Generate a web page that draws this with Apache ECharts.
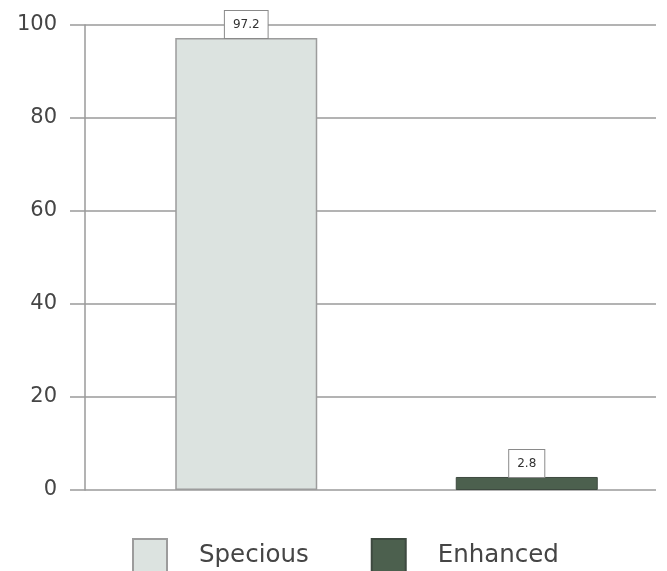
<!DOCTYPE html>
<html>
<head>
<meta charset="utf-8">
<script src="https://cdn.jsdelivr.net/npm/echarts@6/dist/echarts.min.js"></script>
<style>
  html, body { margin: 0; padding: 0; background: #fff; }
  #chart { width: 667px; height: 571px; }
</style>
</head>
<body>
<div id="chart"></div>
<script>
// Categories and values
const categories = ['Specious', 'Enhanced'];
const speciousValues = [97.2, '-'];
const enhancedValues = ['-', 2.8];
const yTicks = { min: 0, max: 100, interval: 20 };

const FONT = 'DejaVu Sans';
const gridLine = '#9a9a9a';

const chart = echarts.init(document.getElementById('chart'));

const valueLabel = {
  show: true,
  position: 'top',
  distance: 0,
  color: '#333',
  fontFamily: FONT,
  fontSize: 12,
  backgroundColor: '#fff',
  borderColor: '#8a8a8a',
  borderWidth: 1,
  padding: [8, 8, 7, 8]
};

chart.setOption({
  animation: false,
  backgroundColor: '#fff',
  legend: {
    bottom: -8,
    left: 127,
    itemWidth: 34,
    itemHeight: 34,
    itemGap: 62,
    icon: 'rect',
    data: categories,
    textStyle: {
      color: '#454545',
      fontFamily: FONT,
      fontSize: 24.5,
      padding: [0, 0, 0, 27]
    }
  },
  grid: [
    // axis frame: y axis, gridlines, ticks
    { left: 85, right: 11, top: 25, bottom: 81 },
    // bar placement
    { left: 106, width: 573, top: 25, bottom: 81 }
  ],
  xAxis: [
    { type: 'category', gridIndex: 0, data: categories, show: false },
    { type: 'category', gridIndex: 1, data: categories, show: false }
  ],
  yAxis: [
    {
      type: 'value', gridIndex: 0,
      min: yTicks.min, max: yTicks.max, interval: yTicks.interval,
      axisLine: { show: true, lineStyle: { color: gridLine, width: 1.5 } },
      axisTick: { show: true, length: 15, lineStyle: { color: gridLine, width: 1.5 } },
      splitLine: { show: true, lineStyle: { color: gridLine, width: 1.5 } },
      axisLabel: { color: '#454545', fontFamily: FONT, fontSize: 21, margin: 28 }
    },
    {
      type: 'value', gridIndex: 1,
      min: yTicks.min, max: yTicks.max, interval: yTicks.interval,
      show: false, splitLine: { show: false }
    }
  ],
  series: [
    {
      name: 'Specious', type: 'bar', stack: 'all',
      xAxisIndex: 1, yAxisIndex: 1,
      barWidth: 142,
      data: speciousValues,
      itemStyle: { color: '#dce3e0', borderColor: '#9c9c9c', borderWidth: 1.5 },
      label: valueLabel
    },
    {
      name: 'Enhanced', type: 'bar', stack: 'all',
      xAxisIndex: 1, yAxisIndex: 1,
      barWidth: 142,
      data: enhancedValues,
      itemStyle: { color: '#4c604e', borderColor: '#3e4a40', borderWidth: 1 },
      label: valueLabel
    }
  ]
});
</script>
</body>
</html>
